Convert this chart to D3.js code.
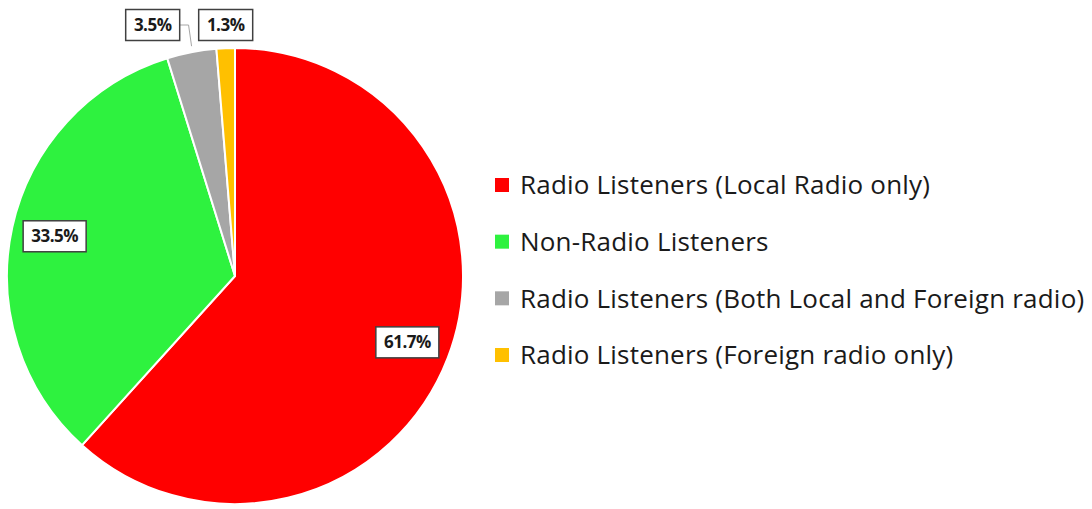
<!DOCTYPE html>
<html>
<head>
<meta charset="utf-8">
<script src="https://cdn.jsdelivr.net/npm/d3@7"></script>
<style>
  body { margin: 0; background: #fff; }
  svg { display: block; font-family: "Open Sans", Lato, sans-serif; }
</style>
</head>
<body>
<div id="chart"></div>
<script>
// data
var categories = [
    "Radio Listeners (Local Radio only)",
    "Non-Radio Listeners",
    "Radio Listeners (Both Local and Foreign radio)",
    "Radio Listeners (Foreign radio only)"
];
var shares = [61.7, 33.5, 3.5, 1.3];
var colors = ["#ff0000", "#2ef23f", "#a6a6a6", "#ffc000"];

var w = 1092, h = 509;
var cx = 235, cy = 276, radius = 228;

var svg = d3.select("#chart").append("svg")
    .attr("width", w)
    .attr("height", h);

var data = categories.map(function(c, i){
    return { name: c, value: shares[i], color: colors[i] };
});

var pie = d3.pie()
    .sort(null)
    .value(function(d){ return d.value; });

var arc = d3.arc().innerRadius(0).outerRadius(radius);
var arcs = pie(data);

var g = svg.append("g").attr("transform", "translate(" + cx + "," + cy + ")");

g.selectAll("path.slice")
    .data(arcs)
    .enter().append("path")
    .attr("class", "slice")
    .attr("d", arc)
    .style("fill", function(d){ return d.data.color; })
    .style("stroke", "#fff")
    .style("stroke-width", 2);

// labels: big slices inside, small ones above the pie
function midAngle(d){ return (d.startAngle + d.endAngle) / 2; }
function fmt(v){ return v.toFixed(1) + "%"; }

var boxW = 54, boxH = 31, bigBoxW = 63;
var labels = arcs.map(function(d){
    var a = midAngle(d);
    var inside = d.data.value > 10;
    var lab = { d: d, inside: inside, w: inside ? bigBoxW : boxW };
    if (inside) {
        var rr = radius * 0.81;
        lab.x = rr * Math.sin(a);
        lab.y = -rr * Math.cos(a);
    } else {
        lab.ax = radius * Math.sin(a);
        lab.ay = -radius * Math.cos(a);
        lab.x = lab.ax;
        lab.y = -radius - 23;
    }
    return lab;
});

// push outside labels apart, moving earlier ones to the left
var outside = labels.filter(function(l){ return !l.inside; });
for (var i = outside.length - 2; i >= 0; i--) {
    var next = outside[i + 1];
    var maxRight = next.x - next.w / 2 - 19;
    if (outside[i].x + outside[i].w / 2 > maxRight) {
        outside[i].x = maxRight - outside[i].w / 2;
        outside[i].moved = true;
    }
}

outside.forEach(function(l){
    if (!l.moved) return;
    var right = l.x + l.w / 2;
    g.append("polyline")
        .attr("points", [[right, l.y], [l.ax - 3, l.y], [l.ax, l.ay - 6]].join(" "))
        .style("fill", "none")
        .style("stroke", "#a6a6a6")
        .style("stroke-width", 1);
});

var lg = g.selectAll("g.label")
    .data(labels)
    .enter().append("g")
    .attr("class", "label")
    .attr("transform", function(l){ return "translate(" + l.x + "," + l.y + ")"; });

lg.append("rect")
    .attr("x", function(l){ return -l.w / 2; })
    .attr("y", -boxH / 2)
    .attr("width", function(l){ return l.w; })
    .attr("height", boxH)
    .style("fill", "#fff")
    .style("stroke", "#404040")
    .style("stroke-width", 1.5);

lg.append("text")
    .attr("text-anchor", "middle")
    .attr("dy", "0.36em")
    .style("font-size", "17px")
    .style("font-weight", "bold")
    .style("letter-spacing", "-0.5px")
    .style("fill", "#1a1a1a")
    .text(function(l){ return fmt(l.d.data.value); });

// legend
var legendY = d3.scalePoint()
    .domain(categories)
    .range([185, 355]);

var leg = svg.selectAll("g.legend")
    .data(data)
    .enter().append("g")
    .attr("class", "legend")
    .attr("transform", function(d){ return "translate(495," + legendY(d.name) + ")"; });

leg.append("rect")
    .attr("x", 0)
    .attr("y", -7)
    .attr("width", 14)
    .attr("height", 14)
    .style("fill", function(d){ return d.color; });

leg.append("text")
    .attr("x", 25)
    .attr("dy", "0.36em")
    .style("font-size", "26px")
    .style("letter-spacing", "0.2px")
    .style("fill", "#1a1a1a")
    .text(function(d){ return d.name; });
</script>
</body>
</html>
